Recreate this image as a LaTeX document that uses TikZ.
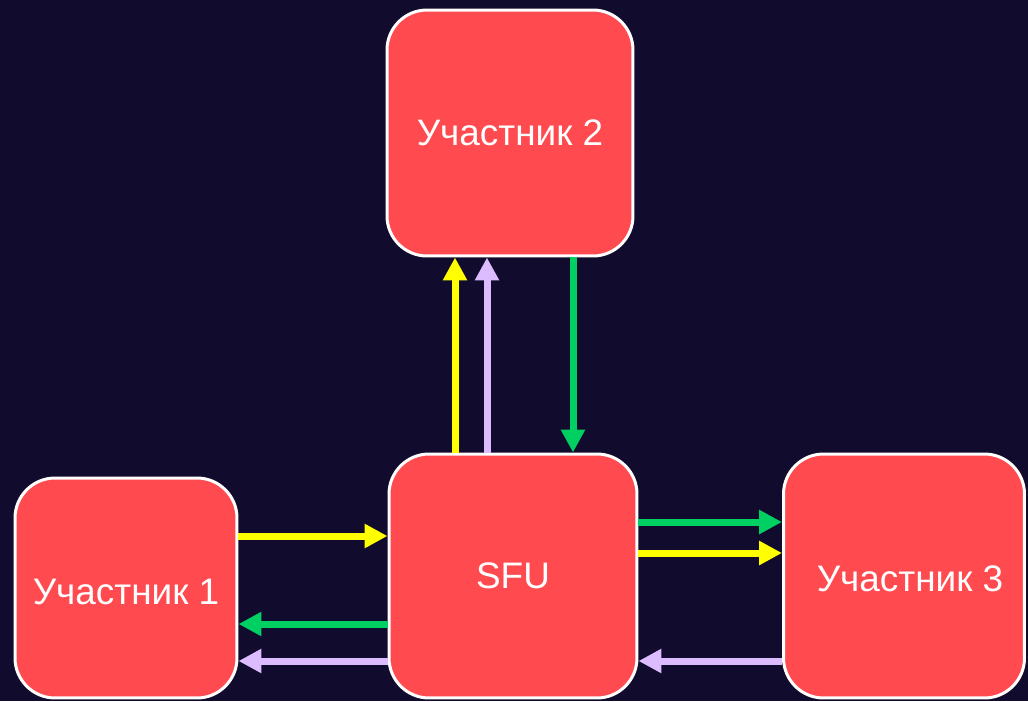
\documentclass[tikz,border=0pt]{standalone}
\usepackage{fontspec}
\setmainfont{Liberation Sans}
\usetikzlibrary{arrows.meta}
\definecolor{bgnavy}{HTML}{110C2E}
\definecolor{boxred}{HTML}{FF4A50}
\definecolor{flowyellow}{HTML}{FFFF00}
\definecolor{flowgreen}{HTML}{00D062}
\definecolor{flowlilac}{HTML}{DDBBFF}
\begin{document}
\begin{tikzpicture}[x=0.02cm, y=-0.02cm,
		peer/.style={draw=white, line width=0.06cm, fill=boxred, rounded corners=0.8cm, text=white, font=\fontsize{21}{25}\selectfont, inner sep=0pt},
		flow/.style={line width=0.14cm, -{Triangle[width=0.46cm,length=0.46cm]}}]
	% dark backdrop
	\fill[bgnavy] (0,0) rectangle (1028,701);
	\useasboundingbox (0,0) rectangle (1028,701);
	% server in the middle, three participants around it
	\node[peer, minimum width=4.92cm, minimum height=4.92cm] (p2) at (510,133) {Участник 2};
	\node[peer, minimum width=4.96cm, minimum height=4.88cm] (sfu) at (513,576) {SFU};
	\node[peer, minimum width=4.44cm, minimum height=4.40cm] (p1) at (126,588) {\raisebox{-0.08cm}[\height][\depth]{Участник 1}};
	\node[peer, minimum width=4.82cm, minimum height=4.88cm] (p3) at (904,576) {\hspace*{0.24cm}\raisebox{-0.06cm}[\height][\depth]{Участник 3}};
	% streams between SFU and participant 2
	\draw[flow, flowyellow] (sfu.north -| 455,0) -- (p2.south -| 455,0);
	\draw[flow, flowlilac] (sfu.north -| 487,0) -- (p2.south -| 487,0);
	\draw[flow, flowgreen] (p2.south -| 573,0) -- (sfu.north -| 573,0);
	% participant 1
	\draw[flow, flowyellow] (p1.east |- 0,536) -- (sfu.west |- 0,536);
	\draw[flow, flowgreen] (sfu.west |- 0,624) -- (p1.east |- 0,624);
	\draw[flow, flowlilac] (sfu.west |- 0,661) -- (p1.east |- 0,661);
	% participant 3
	\draw[flow, flowgreen] (sfu.east |- 0,522) -- (p3.west |- 0,522);
	\draw[flow, flowyellow] (sfu.east |- 0,553) -- (p3.west |- 0,553);
	\draw[flow, flowlilac] (p3.west |- 0,661) -- (sfu.east |- 0,661);
\end{tikzpicture}
\end{document}
